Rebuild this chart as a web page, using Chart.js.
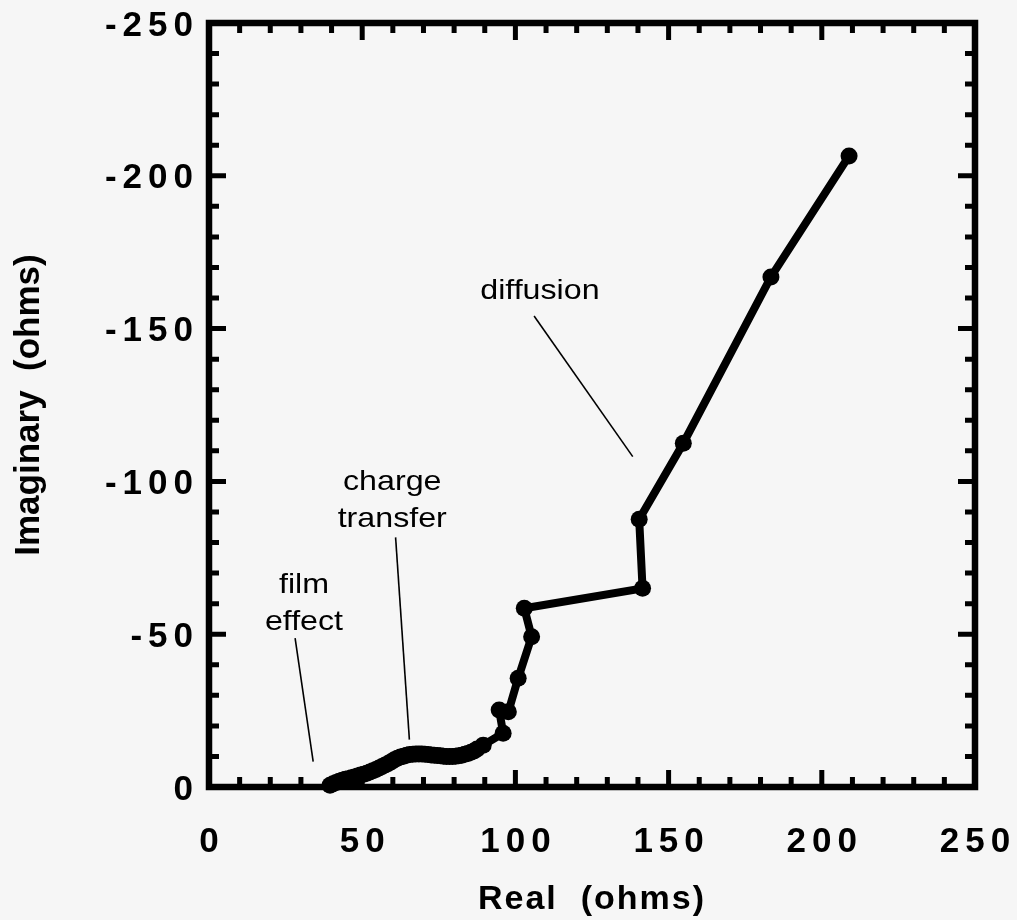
<!DOCTYPE html>
<html><head><meta charset="utf-8">
<script src="https://cdn.jsdelivr.net/npm/chart.js@4/dist/chart.umd.min.js"></script>
<style>
html,body{margin:0;padding:0;background:#f6f6f6;}
#wrap{width:1017px;height:920px;position:relative;}
canvas{display:block;}
</style>
</head><body>
<div id="wrap"><canvas id="c" width="1017" height="920"></canvas></div>
<script>
// ---- data ----
const realOhms = [39.5,40.5,41.5,42.5,43.5,44.5,45.5,46.5,47.5,48.5,49.5,50.5,51.5,52.5,53.5,54.5,55.5,56.5,57.5,58.5,59.5,60.5,61.5,62.5,63.5,64.5,65.5,66.5,67.5,68.5,69.5,70.5,71.5,72.5,73.5,74.5,75.5,76.5,77.5,78.5,79.5,80.5,81.5,82.5,83.5,84.5,85.5,86.5,87.5,89.5,96.0,94.7,97.7,100.9,105.3,102.9,141.5,140.4,154.8,183.4,208.9];
const imagOhms = [-0.6,-1.1,-1.5,-1.9,-2.2,-2.5,-2.7,-3.0,-3.3,-3.6,-3.9,-4.2,-4.5,-4.9,-5.3,-5.7,-6.2,-6.7,-7.2,-7.7,-8.3,-8.9,-9.4,-9.8,-10.1,-10.4,-10.6,-10.7,-10.8,-10.8,-10.8,-10.7,-10.6,-10.5,-10.4,-10.3,-10.2,-10.1,-10.0,-10.0,-10.0,-10.1,-10.2,-10.4,-10.7,-11.0,-11.4,-11.8,-12.4,-13.7,-17.6,-25.2,-24.6,-35.6,-49.2,-58.5,-65.0,-87.6,-112.5,-166.9,-206.5];
const xTickValues = [0,50,100,150,200,250];
const yTickValues = [-250,-200,-150,-100,-50,0];
const xAxisTitle = 'Real  (ohms)';
const yAxisTitle = 'Imaginary  (ohms)';
const annotationLabels = [['film','effect'],['charge','transfer'],['diffusion']];
const annotationTextAt = [[31.0,-63.5],[59.8,-97.2],[108.0,-159.6]];
const annotationLineFrom = [[28.1,-48.7],[60.9,-81.7],[106.1,-154.1]];
const annotationLineTo = [[34.0,-8.3],[65.4,-15.5],[138.3,-108.1]];

// ---- styling ----
const FONT = "'Liberation Sans', Arial, Helvetica, sans-serif";
const LINE_GAP = 37;        // px between annotation lines
const TEXT_STRETCH = 1.15;  // horizontal stretch of annotation text

function patchScale(scale, spacing, dx, dy) {
  scale.paddingTop = 0; scale.paddingBottom = 0;
  scale.paddingLeft = 0; scale.paddingRight = 0;
  if (scale._lsPatched) return;
  scale._lsPatched = true;
  const orig = scale.drawLabels;
  scale.drawLabels = function(ca) {
    const ctx = this.ctx;
    ctx.save();
    ctx.letterSpacing = spacing;
    ctx.translate(dx, dy);
    orig.call(this, ca);
    ctx.restore();
  };
  const origT = scale.drawTitle;
  scale.drawTitle = function() {
    const ctx = this.ctx;
    ctx.save();
    ctx.letterSpacing = this.axis === 'x' ? '2px' : '0px';
    origT.call(this);
    ctx.restore();
  };
}

const framePlugin = {
  id: 'frame',
  beforeDatasetsDraw(chart) {
    const {ctx, chartArea: a, scales: {x, y}} = chart;
    ctx.save();
    ctx.strokeStyle = '#000';
    ctx.lineWidth = 5;
    ctx.lineCap = 'butt';
    ctx.beginPath();
    for (let v = x.min; v <= x.max; v += 10) {
      const L = (v % 50 === 0) ? 17 : 10;
      const p = x.getPixelForValue(v);
      ctx.moveTo(p, a.bottom); ctx.lineTo(p, a.bottom - L);
      ctx.moveTo(p, a.top); ctx.lineTo(p, a.top + L);
    }
    for (let v = y.min; v <= y.max; v += 10) {
      const L = (v % 50 === 0) ? 17 : 10;
      const p = y.getPixelForValue(v);
      ctx.moveTo(a.left, p); ctx.lineTo(a.left + L, p);
      ctx.moveTo(a.right, p); ctx.lineTo(a.right - L, p);
    }
    ctx.stroke();
    ctx.lineWidth = 6.5;
    ctx.lineJoin = 'miter';
    ctx.strokeRect(a.left, a.top, a.right - a.left, a.bottom - a.top);
    ctx.restore();
  },
  afterDatasetsDraw(chart) {
    const {ctx, scales: {x, y}} = chart;
    ctx.save();
    ctx.fillStyle = '#000';
    ctx.strokeStyle = '#000';
    ctx.lineWidth = 1.6;
    ctx.letterSpacing = '0px';
    ctx.font = "28px " + FONT;
    ctx.textAlign = 'center';
    ctx.textBaseline = 'alphabetic';
    annotationLabels.forEach((lines, i) => {
      const px = x.getPixelForValue(annotationTextAt[i][0]);
      const py = y.getPixelForValue(annotationTextAt[i][1]);
      lines.forEach((t, k) => {
        ctx.save();
        ctx.translate(px, py + k * LINE_GAP);
        ctx.scale(TEXT_STRETCH, 1);
        ctx.fillText(t, 0, 0);
        ctx.restore();
      });
      ctx.beginPath();
      ctx.moveTo(x.getPixelForValue(annotationLineFrom[i][0]), y.getPixelForValue(annotationLineFrom[i][1]));
      ctx.lineTo(x.getPixelForValue(annotationLineTo[i][0]), y.getPixelForValue(annotationLineTo[i][1]));
      ctx.stroke();
    });
    ctx.restore();
  }
};

const points = realOhms.map((r, i) => ({x: r, y: imagOhms[i]}));

new Chart(document.getElementById('c'), {
  type: 'line',
  data: {
    datasets: [{
      data: points,
      borderColor: '#000',
      backgroundColor: '#000',
      borderWidth: 8,
      pointRadius: 8.5,
      pointBackgroundColor: '#000',
      pointBorderWidth: 0,
      tension: 0,
      clip: false
    }]
  },
  options: {
    responsive: false,
    animation: false,
    devicePixelRatio: 1,
    layout: {padding: {top: 23, right: 42, left: 0, bottom: 0}},
    plugins: {legend: {display: false}, tooltip: {enabled: false}},
    scales: {
      x: {
        type: 'linear', min: 0, max: 250,
        afterBuildTicks: s => { s.ticks = xTickValues.map(v => ({value: v})); },
        ticks: {color: '#000', padding: 34, font: {family: FONT, size: 35, weight: 'bold'}},
        grid: {display: false, drawTicks: false, tickLength: 0},
        border: {display: false},
        title: {display: true, text: xAxisTitle, color: '#000', padding: {top: 0, bottom: 0}, font: {family: FONT, size: 34, weight: 'bold'}},
        afterFit: s => { s.height = 920 - 787; patchScale(s, '6px', 3, 0); }
      },
      y: {
        type: 'linear', min: -250, max: 0, reverse: true,
        afterBuildTicks: s => { s.ticks = yTickValues.map(v => ({value: v})); },
        ticks: {color: '#000', padding: 10, font: {family: FONT, size: 35, weight: 'bold'}},
        grid: {display: false, drawTicks: false, tickLength: 0},
        border: {display: false},
        title: {display: true, text: yAxisTitle, color: '#000', padding: {top: 8, bottom: 0}, font: {family: FONT, size: 35, weight: 'bold'}},
        afterFit: s => { s.width = 209; patchScale(s, '6px', 0, 3); }
      }
    }
  },
  plugins: [framePlugin]
});
</script>
</body></html>
